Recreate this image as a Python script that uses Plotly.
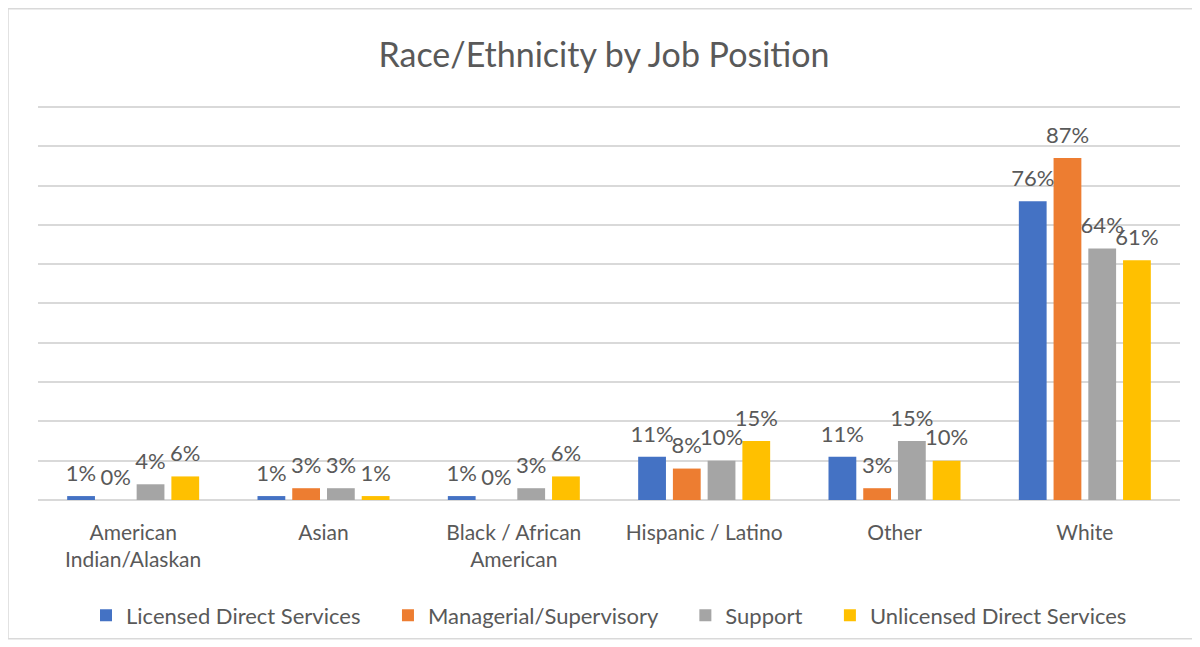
import plotly.graph_objects as go

categories = ["American<br>Indian/Alaskan", "Asian", "Black / African<br>American",
              "Hispanic / Latino", "Other", "White"]
series_names = ["Licensed Direct Services", "Managerial/Supervisory", "Support",
                "Unlicensed Direct Services"]
licensed = [1, 1, 1, 11, 11, 76]
managerial = [0, 3, 0, 8, 3, 87]
support = [4, 3, 3, 10, 15, 64]
unlicensed = [6, 1, 6, 15, 10, 61]
colors = ["#4472C4", "#ED7D31", "#A5A5A5", "#FFC000"]

FONT = "Lato"
GREY = "#595959"
W, H = 1192, 639  # page body has an 8px margin
PAD = "\u00a0" * 4

fig = go.Figure()
all_vals = [licensed, managerial, support, unlicensed]
for i, (name, vals, col) in enumerate(zip(series_names, all_vals, colors)):
    fig.add_trace(go.Bar(
        x=categories, y=vals, name=name + (PAD if i < len(series_names) - 1 else ""),
        marker=dict(color=col, line=dict(width=0)),
        hoverinfo="skip",
    ))
for name, vals in zip(series_names, all_vals):
    fig.add_trace(go.Scatter(
        x=categories, y=vals, mode="markers+text", showlegend=False,
        marker=dict(size=14, opacity=0),
        text=[f"{v}%" for v in vals], textposition="top center",
        textfont=dict(family=FONT, size=22, color=GREY),
        cliponaxis=False, hoverinfo="skip",
    ))

fig.update_layout(
    width=W, height=H,
    margin=dict(l=30, r=20, t=97, b=146),
    paper_bgcolor="white", plot_bgcolor="white",
    barmode="group", bargap=0.27, bargroupgap=0.2,
    scattermode="group", scattergap=0.27,
    title=dict(text="Race/Ethnicity by Job Position", x=0.5, xanchor="center",
               y=1 - 47 / H, yanchor="middle",
               font=dict(family=FONT, size=34, color=GREY)),
    font=dict(family=FONT, color=GREY),
    legend=dict(orientation="h", x=0.5, xanchor="center", y=-0.289, yanchor="middle",
                font=dict(family=FONT, size=22, color=GREY), itemwidth=30,
                traceorder="normal"),
    showlegend=True,
)
fig.update_xaxes(showline=False, ticks="", tickfont=dict(family=FONT, size=21, color=GREY),
                 ticklabelstandoff=18, showgrid=False)
fig.update_yaxes(range=[0, 100.5], tick0=0, dtick=10, showticklabels=False, showgrid=True,
                 gridcolor="#D9D9D9", gridwidth=2, zeroline=True, zerolinecolor="#D9D9D9",
                 zerolinewidth=2, fixedrange=True)
fig.add_shape(type="rect", xref="paper", yref="paper",
              x0=-30 / 1142, x1=(W - 1 - 30) / 1142,
              y0=(493 - 632) / 396, y1=(493 - 0.5) / 396,
              line=dict(color="#D9D9D9", width=1.5), layer="below")

fig.write_html("out.html")
